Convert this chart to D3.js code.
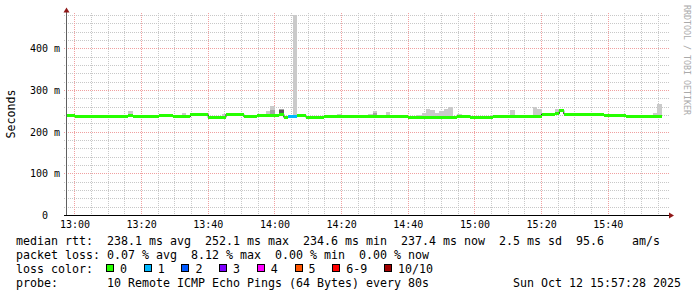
<!DOCTYPE html>
<html><head><meta charset="utf-8">
<script src="https://cdn.jsdelivr.net/npm/d3@7"></script>
<style>
body{margin:0;background:#fff}
svg{display:block}
text{font-family:"DejaVu Sans Mono",monospace}
</style>
</head><body>
<svg id="chart" width="697" height="297"></svg>
<script>
// ---- data ----
const startTime = new Date(2025, 9, 12, 12, 57, 28);
const endTime = new Date(2025, 9, 12, 15, 57, 28);
const stepSeconds = 80;

// median RTT per 80 s step (ms)
const median = [
  238.5,238.5,237,237,237,237,237,237,237,237,
  237,237,237,237,240,237,237,237,237,237,
  237,238.8,238.8,238.8,236,236,236,236,241.5,241.5,
  241.5,241,233.5,233.5,233.5,234.5,242,242,242,242,
  236,236,236,238,238,238,238,238,242,234.5,
  236,236,238,238,234,234,234,234,237.6,237.6,
  237.6,237.6,237.6,237.6,237.6,237.6,236.4,236.4,236.4,236.4,
  236.4,236.4,236.4,236.4,236.4,236.4,236.4,234.5,234.5,234.5,
  234.5,234.5,234.5,234.5,234.5,234.5,234.5,234.5,237.5,237.5,
  237.5,233,233,233,233,233,236.4,236.4,236.4,236.4,
  236.4,236.4,236.4,236.4,236.4,236.4,236.4,242.4,242.4,242.4,
  243,251,242.4,242.4,242.4,242.4,242.4,242.4,242.4,242.4,
  242.4,240,238,238,238,238,236.4,236.4,236.4,236.4,
  236.4,236.4,236.4,236.4
];
// lost pings (of 10) per step
const loss = [
  0,0,0,0,0,0,0,0,0,0, 0,0,0,0,0,0,0,0,0,0,
  0,0,0,0,0,0,0,0,0,0, 0,0,0,0,0,0,0,0,0,0,
  0,0,0,0,0,0,0,0,0,0, 1,1,0,0,0,0,0,0,0,0,
  0,0,0,0,0,0,0,0,0,0, 0,0,0,0,0,0,0,0,0,0,
  0,0,0,0,0,0,0,0,0,0, 0,0,0,0,0,0,0,0,0,0,
  0,0,0,0,0,0,0,0,0,0, 0,0,0,0,0,0,0,0,0,0,
  0,0,0,0,0,0,0,0,0,0, 0,0,0,0
];
// highest ping per step, where the smoke shows above the median band (ms)
const smokeMax = [
  null,null,null,null,null,null,null,null,null,null,
  null,null,null,null,249,null,null,null,null,null,
  null,null,null,null,null,null,244,null,null,null,
  null,null,null,null,null,243,null,null,null,null,
  null,null,null,null,null,249,261,null,254,null,
  null,479,null,null,null,null,null,null,null,null,
  null,243,null,null,null,null,null,null,243,250,
  null,null,247,null,null,null,null,null,null,240,
  245,255,252,245,250,254,259,null,242,null,
  null,null,null,null,null,null,null,null,null,null,
  251,null,null,null,null,259,254,null,null,null,
  255,null,null,null,null,null,null,null,null,null,
  null,null,null,242,null,null,null,null,null,null,
  null,null,246,266
];
// inner smoke bands (2nd / 3rd ping from top)
const smokeMidSteps = [46, 48, 69];
const smokeMidValues = [252, 254, 246];
const smokeCoreSteps = [48];
const smokeCoreValues = [253];

const lossLabels = ["0","1","2","3","4","5","6-9","10/10"];
const lossColors = ["#26ff00","#00b8ff","#0059ff","#7e00ff","#ff00ff","#ff5500","#ff0000","#a10000"];
const yTickValues = [0,100,200,300,400];
const yTickLabels = ["0","100 m","200 m","300 m","400 m"];

const legendLine1 = "median rtt:  238.1 ms avg  252.1 ms max  234.6 ms min  237.4 ms now  2.5 ms sd  95.6    am/s";
const legendLine2 = "packet loss: 0.07 % avg  8.12 % max  0.00 % min  0.00 % now";
const legendLine3 = "loss color:";
const legendLine4 = "probe:       10 Remote ICMP Echo Pings (64 Bytes) every 80s";
const dateLabel = "Sun Oct 12 15:57:28 2025";
const yTitle = "Seconds";
const watermark = "RRDTOOL / TOBI OETIKER";

// ---- drawing ----
const svg = d3.select("#chart");
const x = d3.scaleTime().domain([startTime, endTime]).range([66, 666]);
const y = d3.scaleLinear().domain([0, 480]).range([215, 15]);
const stepT = i => new Date(startTime.getTime() + i * stepSeconds * 1000);

// grid
const grid = svg.append("g").attr("shape-rendering", "crispEdges");
const minorX = x.ticks(d3.timeMinute.every(5));
const majorX = x.ticks(d3.timeMinute.every(20));
const minorY = y.ticks(24).filter(v => v > 0);
const majorY = y.ticks(5).filter(v => v > 0);
grid.selectAll("line.hmin").data(minorY).join("line")
  .attr("x1", 64).attr("x2", 669).attr("y1", d => Math.round(y(d)) + 0.5).attr("y2", d => Math.round(y(d)) + 0.5)
  .attr("stroke", "#c8c8c8").attr("stroke-dasharray", "1,1");
grid.selectAll("line.vmin").data(minorX).join("line")
  .attr("x1", d => Math.round(x(d)) + 0.5).attr("x2", d => Math.round(x(d)) + 0.5).attr("y1", 13).attr("y2", 217)
  .attr("stroke", "#c8c8c8").attr("stroke-dasharray", "1,1");
grid.selectAll("line.hmaj").data(majorY).join("line")
  .attr("x1", 64).attr("x2", 669).attr("y1", d => Math.round(y(d)) + 0.5).attr("y2", d => Math.round(y(d)) + 0.5)
  .attr("stroke", "#f0a0a0").attr("stroke-dasharray", "1,1");
grid.selectAll("line.vmaj").data(majorX).join("line")
  .attr("x1", d => Math.round(x(d)) + 0.5).attr("x2", d => Math.round(x(d)) + 0.5).attr("y1", 13).attr("y2", 217)
  .attr("stroke", "#f0a0a0").attr("stroke-dasharray", "1,1");

// smoke
const smoke = svg.append("g").attr("shape-rendering", "crispEdges");
const idx = d3.range(median.length);
smoke.selectAll("rect.smoke").data(idx.filter(i => smokeMax[i] != null)).join("rect")
  .attr("x", i => x(stepT(i))).attr("width", i => x(stepT(i + 1)) - x(stepT(i)))
  .attr("y", i => y(smokeMax[i])).attr("height", i => y(median[i]) - y(smokeMax[i]))
  .attr("fill", "#cacaca");
smoke.selectAll("rect.smid").data(smokeMidSteps).join("rect")
  .attr("x", (s) => x(stepT(s))).attr("width", s => x(stepT(s + 1)) - x(stepT(s)))
  .attr("y", (s, k) => y(smokeMidValues[k])).attr("height", (s, k) => y(median[s]) - y(smokeMidValues[k]))
  .attr("fill", "#a4a4a4");
svg.append("g").attr("shape-rendering", "crispEdges")
  .selectAll("rect").data(smokeCoreSteps).join("rect")
  .attr("x", (s) => x(stepT(s))).attr("width", s => x(stepT(s + 1)) - x(stepT(s)))
  .attr("y", (s, k) => y(smokeCoreValues[k])).attr("height", (s, k) => y(median[s]) - y(smokeCoreValues[k]))
  .attr("fill", "#585858");

// median dark step line
const linePts = idx.map(i => [stepT(i), median[i]]).concat([[stepT(median.length), median[median.length - 1]]]);
svg.append("path").datum(linePts)
  .attr("d", d3.line().x(d => x(d[0])).y(d => y(d[1])).curve(d3.curveStepAfter))
  .attr("fill", "none").attr("stroke", "#202020").attr("stroke-width", 1);

// median band colored by loss (on top of the dark line)
svg.append("g").attr("shape-rendering", "crispEdges")
  .selectAll("rect").data(idx).join("rect")
  .attr("x", i => x(stepT(i))).attr("width", i => x(stepT(i + 1)) - x(stepT(i)))
  .attr("y", i => y(median[i]) - 1.5).attr("height", 3)
  .attr("fill", i => lossColors[loss[i]]);

// axes lines
svg.append("line").attr("x1", 66.5).attr("x2", 66.5).attr("y1", 215).attr("y2", 12).attr("stroke", "#606060");
svg.append("line").attr("x1", 64).attr("x2", 669).attr("y1", 215.5).attr("y2", 215.5).attr("stroke", "#000");
svg.append("path").attr("d", "M63.5,12.5 L69.5,12.5 L66.5,7.5 Z").attr("fill", "#901818");
svg.append("path").attr("d", "M669,212.5 L669,218.5 L674,215.5 Z").attr("fill", "#901818");

// axis labels
const xAxis = svg.append("g").attr("transform", "translate(0,215)")
  .call(d3.axisBottom(x).ticks(d3.timeMinute.every(20)).tickFormat(d3.timeFormat("%H:%M")).tickSize(0));
xAxis.select(".domain").remove();
xAxis.selectAll("text").attr("y", 13).attr("dy", null)
  .style("font-family", "DejaVu Sans Mono").style("font-size", "10px").attr("fill", "#000");

const yAxis = svg.append("g").attr("transform", "translate(0,0)")
  .call(d3.axisLeft(y).tickValues(yTickValues).tickFormat((d, k) => yTickLabels[k]).tickSize(0));
yAxis.select(".domain").remove();
yAxis.selectAll("text").attr("x", d => d === 0 ? 48 : 60).attr("dy", "0.36em")
  .attr("text-anchor", "end")
  .style("font-family", "DejaVu Sans Mono").style("font-size", "10px").attr("fill", "#000");

svg.append("text").attr("transform", "translate(15,114) rotate(-90)")
  .attr("text-anchor", "middle").style("font-size", "11.63px").attr("fill", "#000").text(yTitle);

svg.append("text").attr("transform", "translate(684,5) rotate(90)")
  .style("font-size", "8.3px").attr("fill", "#aaaaaa").text(watermark);

// legend
const fs = "11.63px";
const lg = svg.append("g").style("font-size", fs).attr("fill", "#000");
lg.append("text").attr("x", 16).attr("y", 245).style("white-space", "pre").text(legendLine1);
lg.append("text").attr("x", 16).attr("y", 259).style("white-space", "pre").text(legendLine2);
lg.append("text").attr("x", 16).attr("y", 272.5).style("white-space", "pre").text(legendLine3);
lg.append("text").attr("x", 16).attr("y", 287).style("white-space", "pre").text(legendLine4);
lg.append("text").attr("x", 681).attr("y", 287).attr("text-anchor", "end").text(dateLabel);

let bx = 106;
lossLabels.forEach((lab, k) => {
  lg.append("rect").attr("x", bx + 0.5).attr("y", 264.5).attr("width", 7).attr("height", 7)
    .attr("fill", lossColors[k]).attr("stroke", "#000").attr("stroke-width", 1).attr("shape-rendering", "crispEdges");
  lg.append("text").attr("x", bx + 14).attr("y", 272.5).text(lab);
  bx += 30.7 + 7 * lab.length;
});
</script>
</body></html>
